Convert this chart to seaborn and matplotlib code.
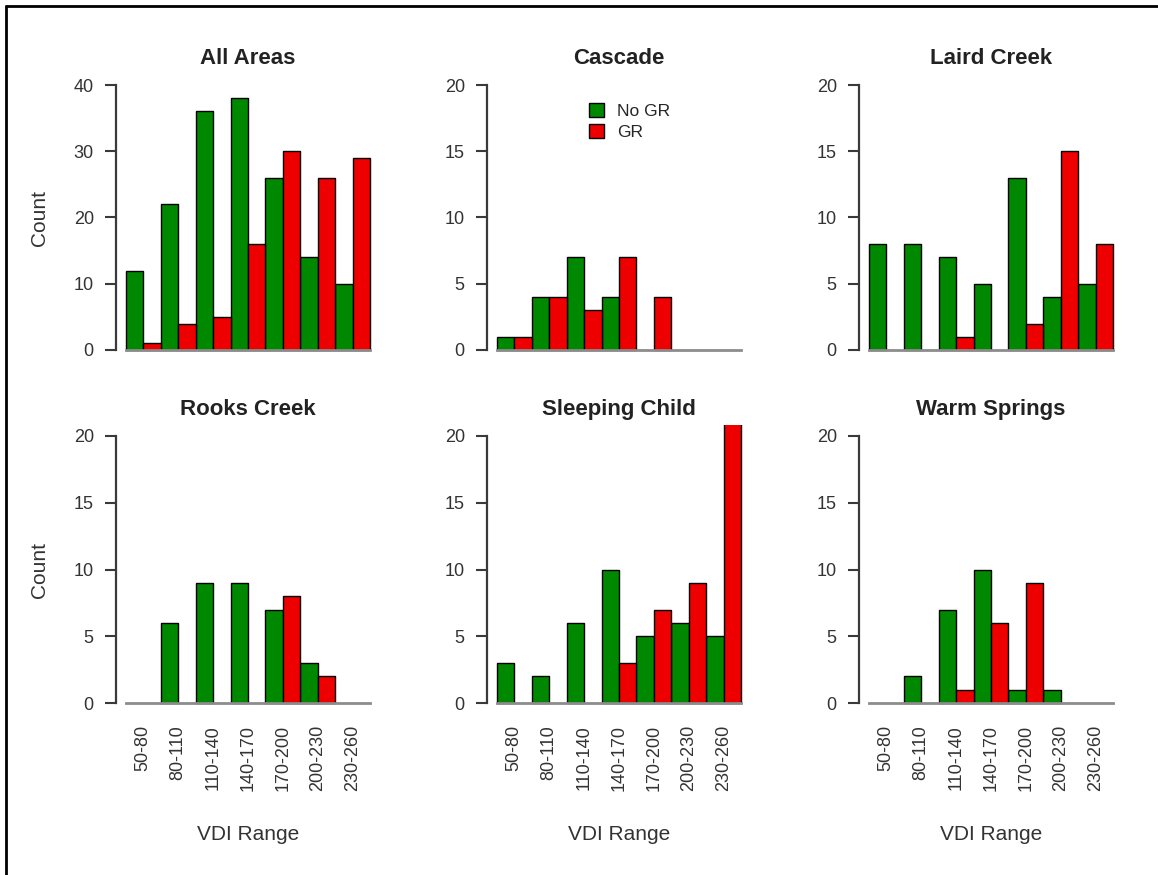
import pandas as pd
import seaborn as sns
import matplotlib.pyplot as plt
from matplotlib.patches import Patch
from matplotlib.lines import Line2D

# Data
vdi_ranges = ['50-80', '80-110', '110-140', '140-170', '170-200', '200-230', '230-260']
groups = ['No GR', 'GR']
areas = ['All Areas', 'Cascade', 'Laird Creek', 'Rooks Creek', 'Sleeping Child', 'Warm Springs']

all_nogr = [12, 22, 36, 38, 26, 14, 10]
all_gr = [1, 4, 5, 16, 30, 26, 29]
cascade_nogr = [1, 4, 7, 4, 0, 0, 0]
cascade_gr = [1, 4, 3, 7, 4, 0, 0]
laird_nogr = [8, 8, 7, 5, 13, 4, 5]
laird_gr = [0, 0, 1, 0, 2, 15, 8]
rooks_nogr = [0, 6, 9, 9, 7, 3, 0]
rooks_gr = [0, 0, 0, 0, 8, 2, 0]
sleeping_nogr = [3, 2, 6, 10, 5, 6, 5]
sleeping_gr = [0, 0, 0, 3, 7, 9, 21]
warm_nogr = [0, 2, 7, 10, 1, 1, 0]
warm_gr = [0, 0, 1, 6, 9, 0, 0]

counts = {
    'All Areas': (all_nogr, all_gr),
    'Cascade': (cascade_nogr, cascade_gr),
    'Laird Creek': (laird_nogr, laird_gr),
    'Rooks Creek': (rooks_nogr, rooks_gr),
    'Sleeping Child': (sleeping_nogr, sleeping_gr),
    'Warm Springs': (warm_nogr, warm_gr),
}
y_max = {'All Areas': 40}

rows = []
for area in areas:
    for grp, vals in zip(groups, counts[area]):
        for rng, v in zip(vdi_ranges, vals):
            rows.append({'area': area, 'group': grp, 'range': rng, 'count': v})
df = pd.DataFrame(rows)

colors = {'No GR': '#008800', 'GR': '#EE0000'}

# Styling
sns.set_style('white')
plt.rcParams['font.family'] = ['Liberation Sans', 'DejaVu Sans']

W, H = 1158, 875
fig = plt.figure(figsize=(W / 100, H / 100), dpi=100)
# frame: only top and left edges are visible in the original
fig.add_artist(Line2D([6 / W, 1], [1 - 6 / H, 1 - 6 / H], transform=fig.transFigure,
                      color='black', lw=2))
fig.add_artist(Line2D([6 / W, 6 / W], [0, 1 - 6 / H], transform=fig.transFigure,
                      color='black', lw=2))

lefts = [116, 487, 859]
tops = [74.4, 425.3]
bottoms = [360.6, 713.7]

for i, area in enumerate(areas):
    r, c = divmod(i, 3)
    ax = fig.add_axes([lefts[c] / W, 1 - bottoms[r] / H, 264 / W, (bottoms[r] - tops[r]) / H])
    d = df[(df['area'] == area) & (df['count'] > 0)]
    sns.barplot(data=d, x='range', y='count', hue='group', order=vdi_ranges,
                hue_order=groups, palette=colors, width=1, saturation=1,
                edgecolor='black', linewidth=1, errorbar=None, legend=False, ax=ax)
    ymax = y_max.get(area, 20)
    ax.set_ylim(-0.04 * ymax, 1.04 * ymax)
    ax.set_xlim(-0.78, len(vdi_ranges) - 0.22)
    ax.set_yticks(range(0, ymax + 1, ymax // 4))
    ax.set_title(area, fontsize=16, fontweight='bold', color='#222222', pad=7.5)

    sns.despine(ax=ax)
    ax.spines['left'].set_bounds(0, ymax)
    ax.spines['left'].set_color('#3a3a3a')
    ax.spines['left'].set_linewidth(1.6)
    ax.spines['bottom'].set_position(('data', 0))
    ax.spines['bottom'].set_bounds(-0.5, len(vdi_ranges) - 0.5)
    ax.spines['bottom'].set_color('#8c8c8c')
    ax.spines['bottom'].set_linewidth(2)

    ax.tick_params(axis='y', length=8, width=1.5, pad=8, labelsize=13,
                   color='#3a3a3a', labelcolor='#333333', left=True)
    ax.tick_params(axis='x', length=0, pad=16, labelsize=13, labelcolor='#333333',
                   labelrotation=90, labelbottom=(r == 1))

    if c == 0:
        ax.set_ylabel('Count', fontsize=15, color='#333333')
        ax.yaxis.set_label_coords(-0.255, 0.5)
    else:
        ax.set_ylabel('')
    if r == 1:
        ax.set_xlabel('VDI Range', fontsize=15, color='#333333')
        ax.xaxis.set_label_coords(0.5, -0.385)
    else:
        ax.set_xlabel('')

    if area == 'Cascade':
        handles = [Patch(facecolor=colors[g], edgecolor='black', label=g) for g in groups]
        ax.legend(handles=handles, loc='upper left', bbox_to_anchor=(0.355, 0.93),
                  frameon=False, fontsize=12.5, borderpad=0, handlelength=0.85,
                  handleheight=0.85, handletextpad=0.75, labelspacing=0.3)

plt.savefig('out.png', dpi=100)
